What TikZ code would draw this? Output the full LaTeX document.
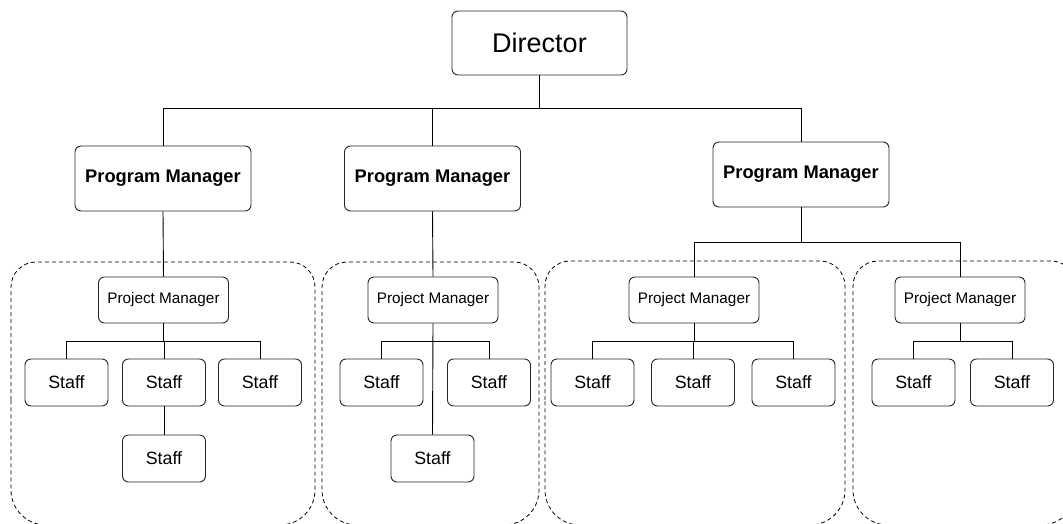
\documentclass[tikz,border=0pt]{standalone}
\usepackage{fontspec}
\setmainfont{Liberation Sans}
\begin{document}
\begin{tikzpicture}[x=1pt,y=-1pt,
  box/.style={draw=black!85, line width=0.9pt, rounded corners=6pt, fill=white, inner sep=0pt, anchor=center},
  dirbox/.style={box, minimum width=175pt, minimum height=64pt, font=\fontsize{27}{30}\selectfont},
  pmbox/.style={box, minimum width=176pt, minimum height=65pt, font=\fontsize{18.3}{21}\selectfont\bfseries},
  pjbox/.style={box, minimum width=130pt, minimum height=46pt, font=\fontsize{15.3}{18}\selectfont},
  stbox/.style={box, minimum width=83pt, minimum height=47pt, font=\fontsize{17.8}{20}\selectfont},
  grp/.style={draw=black, line width=0.8pt, dash pattern=on 4pt off 3pt},
  conn/.style={draw=black, line width=0.9pt}
]
\useasboundingbox (0,0) rectangle (1063,523);
\clip (0,0) rectangle (1063,523);
% group boxes: top corners r=25, bottom corners r=35
\newcommand\grpbox[4]{%
  \draw[grp] (#1,400) [rounded corners=25pt] -- (#1,#2) -- (#3,#2)
    [rounded corners=35pt] -- (#3,#4) -- (#1,#4) [sharp corners] -- cycle;}
\grpbox{11}{262}{315}{525}
\grpbox{322}{262}{539}{525}
\grpbox{545}{261}{845}{525}
\grpbox{853}{261}{1076}{525}

% nodes
\node[dirbox] (dir) at (539.5,43) {Director};
\node[pmbox] (pm1) at (163,178.5) {Program Manager};
\node[pmbox] (pm2) at (432.5,178.5) {Program Manager};
\node[pmbox] (pm3) at (801,174.5) {Program Manager};

\node[pjbox] (pj1) at (163.5,300) {Project Manager};
\node[pjbox] (pj2) at (433,300) {Project Manager};
\node[pjbox] (pj3) at (694,300) {Project Manager};
\node[pjbox] (pj4) at (960,300) {Project Manager};

\node[stbox] (s11) at (66.5,382.5) {Staff};
\node[stbox] (s12) at (164,382.5) {Staff};
\node[stbox] (s13) at (260,382.5) {Staff};
\node[stbox] (s14) at (164,458.5) {Staff};

\node[stbox] (s21) at (381.5,382.5) {Staff};
\node[stbox] (s22) at (489,382.5) {Staff};
\node[stbox] (s23) at (432.5,458.5) {Staff};

\node[stbox] (s31) at (592.5,382.5) {Staff};
\node[stbox] (s32) at (693,382.5) {Staff};
\node[stbox] (s33) at (793.5,382.5) {Staff};

\node[stbox] (s41) at (913.5,382.5) {Staff};
\node[stbox] (s42) at (1012,382.5) {Staff};

% connectors
\coordinate (dj) at (539.5,108);
\draw[conn] (dir.south) -- (dj);
\draw[conn] (dj) -| (pm1.north);
\draw[conn] (dj) -| (pm2.north);
\draw[conn] (dj) -| (pm3.north);

\draw[conn] (pm1.south) -- (pj1.north);
\draw[conn] (pm2.south) -- (pj2.north);
\coordinate (pj3j) at (801,242);
\draw[conn] (pm3.south) -- (pj3j);
\draw[conn] (pj3j) -| (pj3.north);
\draw[conn] (pj3j) -| (pj4.north);

\coordinate (j1) at (163.5,341);
\draw[conn] (pj1.south) -- (j1);
\draw[conn] (j1) -| (s11.north);
\draw[conn] (j1) -| (s12.north);
\draw[conn] (j1) -| (s13.north);
\draw[conn] (s12.south) -- (s14.north);

\coordinate (j2) at (433,341);
\draw[conn] (pj2.south) -- (s23.north);
\draw[conn] (j2) -| (s21.north);
\draw[conn] (j2) -| (s22.north);

\coordinate (j3) at (694,341);
\draw[conn] (pj3.south) -- (j3);
\draw[conn] (j3) -| (s31.north);
\draw[conn] (j3) -| (s32.north);
\draw[conn] (j3) -| (s33.north);

\coordinate (j4) at (960,341);
\draw[conn] (pj4.south) -- (j4);
\draw[conn] (j4) -| (s41.north);
\draw[conn] (j4) -| (s42.north);
\end{tikzpicture}
\end{document}
